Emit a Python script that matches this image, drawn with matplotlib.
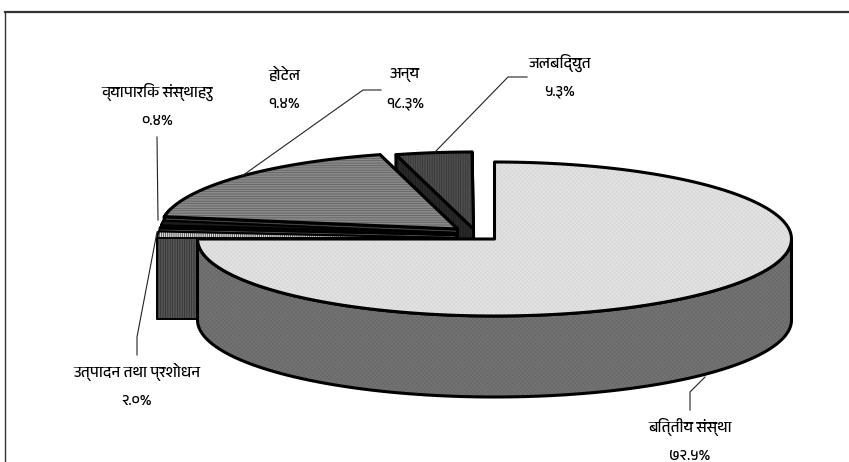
import numpy as np
import matplotlib
matplotlib.use("Agg")
import matplotlib.pyplot as plt
from matplotlib.patches import Polygon
from matplotlib import font_manager as fm

# ---- data ----
sector_names = ["बित्तीय संस्था", "उत्पादन तथा प्रशोधन", "व्यापारिक संस्थाहरु", "होटेल", "अन्य", "जलबिद्युत"]
sector_pct = [72.5, 2.0, 0.4, 1.4, 18.3, 5.3]
pct_labels = ["७२.५%", "२.०%", "०.४%", "१.४%", "१८.३%", "५.३%"]

# ---- fonts ----
deva = [f.name for f in fm.fontManager.ttflist
        if "Devanagari" in f.name or "Lohit" in f.name or "Mangal" in f.name or "Gargi" in f.name]
plt.rcParams["font.family"] = list(dict.fromkeys(deva)) + ["Noto Sans", "DejaVu Sans"]
plt.rcParams["hatch.linewidth"] = 0.5

W, H = 849, 462
fig = plt.figure(figsize=(W / 100, H / 100), dpi=100)
ax = fig.add_axes([0, 0, 1, 1])
ax.set_xlim(0, W)
ax.set_ylim(H, 0)
ax.axis("off")

# layout of the pie, in pixels
RX, RY, DEPTH = 297, 77, 81
CENTER = (494.5, 239)
# how far each slice is pulled out of the pie
SHIFT = [(0, 0), (-40, -1), (-39, -4), (-38, -6), (-37, -10), (-21, -10)]
# (colour, hatch, hatch colour) for top, for cut face and for outer wall
TOP = [("#e4e4e4", "xxxxxxxx", "#d6d6d6"),
       ("#d8d8d8", "||||||||", "#333333"),
       ("#d0d0d0", "........", "#777777"),
       ("#1c1c1c", None, None),
       ("#8a8a8a", "-------", "#5c5c5c"),
       ("#4e4e4e", "|||||||", "#333333")]
WALL = [("#747474", "xxxxxxxx", "#686868"),
        ("#555555", "|||||||", "#2e2e2e"),
        ("#444444", None, None),
        ("#222222", None, None),
        ("#444444", "-------", "#333333"),
        ("#2a2a2a", "|||||||", "#1a1a1a")]
EDGE_LW = [2.2, 1.4, 1.2, 1.4, 2.2, 2.2]


def view_angle(deg):
    # pie tilt squeezes the angles behind the centre
    back = 360 - deg
    if 0 <= back <= 99:
        return 360 - np.interp(back, [0, 19.1, 85, 99], [0, 14.8, 80.6, 90])
    return np.interp(deg, [0, 261], [0, 270])


def rim(cx, cy, a0, a1, n=160):
    t = np.radians(np.linspace(a0, a1, n))
    return np.column_stack([cx + RX * np.sin(t), cy - RY * np.cos(t)])


def fill(points, style, lw):
    fc, hatch, hatch_col = style
    ax.add_patch(Polygon(points, closed=True, fc=fc, ec="none"))
    if hatch:
        ax.add_patch(Polygon(points, closed=True, fc="none", ec=hatch_col, lw=0, hatch=hatch))
    ax.add_patch(Polygon(points, closed=True, fc="none", ec="black", lw=lw, joinstyle="round"))


def cut_face(cx, cy, a, style, lw):
    p = rim(cx, cy, a, a, 2)[0]
    fill([(cx, cy), p, (p[0], p[1] + DEPTH), (cx, cy + DEPTH)], style, lw)


edges = np.cumsum([0] + sector_pct) * 3.6

for i in [5, 4, 3, 2, 1, 0]:  # back to front
    cx = CENTER[0] + SHIFT[i][0]
    cy = CENTER[1] + SHIFT[i][1]
    a0, a1 = view_angle(edges[i]), view_angle(edges[i + 1])
    arc = rim(cx, cy, a0, a1)
    lw = EDGE_LW[i]

    # hidden cut face, outer wall, then the cut face that looks at us
    # the big slice shows only its outer wall
    if i != 0:
        cut_face(cx, cy, a1, WALL[i], lw)
    low = arc[arc[:, 1] >= cy - 20] if i != 0 else arc[arc[:, 1] >= cy - 1]
    if len(low) > 1:
        fill(np.vstack([low, (low + [0, DEPTH])[::-1]]), WALL[i], lw)
    if i != 0:
        cut_face(cx, cy, a0, WALL[i], lw)

    fill(np.vstack([[(cx, cy)], arc]), TOP[i], lw)

# frame round the chart
ax.plot([5.5, W], [11.5, 11.5], color="#333333", lw=1.6)
ax.plot([5.5, 5.5], [H, 11.5], color="#333333", lw=1.0)

# labels with leader lines
LABEL_XY = [(690, 427), (137, 372), (157, 92), (284, 75), (405, 75), (560, 63)]
LEADERS = [[(690, 410), (690, 392), (705, 377)],
           [(137, 355), (137, 337), (157, 232)],
           [(157, 137), (158, 220)],
           None,
           [(381, 90), (363, 90), (242, 176)],
           [(527, 77), (508, 77), (435, 152)]]

for name, pct, (x, y), lead in zip(sector_names, pct_labels, LABEL_XY, LEADERS):
    ax.text(x, y, name, ha="center", va="center", fontsize=11, color="black")
    ax.text(x, y + 29, pct, ha="center", va="center", fontsize=11, color="black")
    if lead:
        xs, ys = zip(*lead)
        ax.plot(xs, ys, color="#222222", lw=0.8)

fig.savefig("out.png", dpi=100)
